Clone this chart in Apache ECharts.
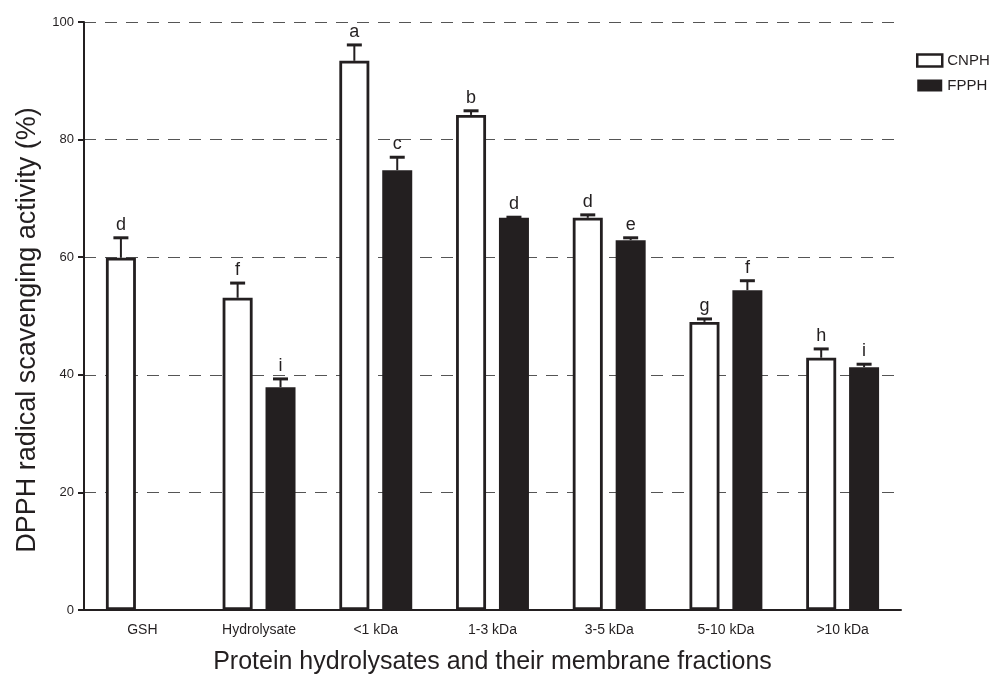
<!DOCTYPE html>
<html>
<head>
<meta charset="utf-8">
<script src="https://cdn.jsdelivr.net/npm/echarts@6/dist/echarts.min.js"></script>
<style>
    html, body { margin: 0; padding: 0; background: #fff; }
    #main { width: 995px; height: 682px; }
</style>
</head>
<body>
<div id="main"></div>
<script>
// categories and readings (mean, upper error bar end, significance letter)
var categories = ['GSH', 'Hydrolysate', '<1 kDa', '1-3 kDa', '3-5 kDa', '5-10 kDa', '>10 kDa'];
var cnphValues = [59.9, 53.1, 93.4, 84.2, 66.7, 49.0, 42.9];
var cnphErrTop = [63.3, 55.6, 96.1, 84.9, 67.2, 49.5, 44.4];
var cnphLetters = ['d', 'f', 'a', 'b', 'd', 'g', 'h'];
var fpphValues = [null, 37.9, 74.8, 66.7, 62.9, 54.4, 41.3];
var fpphErrTop = [null, 39.3, 77.0, 66.8, 63.3, 56.0, 41.8];
var fpphLetters = [null, 'i', 'c', 'd', 'e', 'f', 'i'];
var yTicks = [0, 20, 40, 60, 80, 100];

var ink = '#231f20';
var font = '"Liberation Sans", Arial, Helvetica, sans-serif';
var barWidth = 30;
var barGapPct = 43;
var barOffset = (barWidth + barWidth * barGapPct / 100) / 2;

function errData(vals, tops, letters) {
    var out = [];
    for (var i = 0; i < vals.length; i++) {
        if (vals[i] == null) continue;
        out.push([i, vals[i], tops[i], letters[i]]);
    }
    return out;
}

function errRenderer(side) {
    return function (params, api) {
        var c = api.value(0);
        var base = api.coord([c, api.value(1)]);
        var top = api.coord([c, api.value(2)]);
        var x = base[0] + side * barOffset;
        var capHalf = 7.5;
        return {
            type: 'group',
            children: [
                {
                    type: 'line',
                    shape: { x1: x, y1: base[1], x2: x, y2: top[1] },
                    style: { stroke: ink, lineWidth: 2 }
                },
                {
                    type: 'line',
                    shape: { x1: x - capHalf, y1: top[1], x2: x + capHalf, y2: top[1] },
                    style: { stroke: ink, lineWidth: 3 }
                },
                {
                    type: 'text',
                    style: {
                        x: x, y: top[1] - 4,
                        text: api.value(3),
                        fill: ink,
                        font: '18px ' + font,
                        align: 'center',
                        verticalAlign: 'bottom'
                    }
                }
            ]
        };
    };
}

var chart = echarts.init(document.getElementById('main'));
var option = {
    backgroundColor: '#fff',
    animation: false,
    textStyle: { fontFamily: font, color: ink },
    grid: { left: 84, right: 94, top: 22, bottom: 72 },
    legend: {
        orient: 'vertical',
        left: 911,
        top: 48,
        itemWidth: 25,
        itemHeight: 12,
        itemGap: 10,
        textStyle: { fontSize: 15, color: ink, fontFamily: font },
        data: [
            { name: 'CNPH', icon: 'rect', itemStyle: { color: '#fff', borderColor: ink, borderWidth: 2.5 } },
            { name: 'FPPH', icon: 'rect', itemStyle: { color: ink, borderWidth: 0 } }
        ]
    },
    xAxis: {
        type: 'category',
        data: categories,
        name: 'Protein hydrolysates and their membrane fractions',
        nameLocation: 'middle',
        nameGap: 40,
        nameTextStyle: { fontSize: 25, color: ink, fontFamily: font },
        axisLine: { lineStyle: { color: ink, width: 2 } },
        axisTick: { alignWithLabel: true, length: 6, lineStyle: { color: ink, width: 2 } },
        axisLabel: { fontSize: 14, color: ink, margin: 13 }
    },
    yAxis: {
        type: 'value',
        min: 0,
        max: 100,
        interval: 20,
        name: 'DPPH radical scavenging activity (%)',
        nameLocation: 'middle',
        nameRotate: 90,
        nameGap: 41,
        nameTextStyle: { fontSize: 27, color: ink, fontFamily: font, padding: [0, 28, 0, 0] },
        axisLine: { show: true, lineStyle: { color: ink, width: 2 } },
        axisTick: { show: true, length: 6, lineStyle: { color: ink, width: 2 } },
        axisLabel: {
            fontSize: 13, color: ink, margin: 10,
            formatter: function (v) { return yTicks.indexOf(v) >= 0 ? String(v) : ''; }
        },
        splitLine: { show: true, lineStyle: { color: '#555', width: 1.2, type: [12, 9] } }
    },
    series: [
        {
            name: 'CNPH',
            type: 'bar',
            data: cnphValues,
            barWidth: barWidth,
            barGap: barGapPct + '%',
            itemStyle: { color: '#fff', borderColor: ink, borderWidth: 2.8 },
            z: 3
        },
        {
            name: 'FPPH',
            type: 'bar',
            data: fpphValues,
            barWidth: barWidth,
            itemStyle: { color: ink },
            z: 3
        },
        {
            type: 'custom',
            name: 'CNPH err',
            renderItem: errRenderer(-1),
            data: errData(cnphValues, cnphErrTop, cnphLetters),
            encode: { x: 0, y: 2 },
            z: 4
        },
        {
            type: 'custom',
            name: 'FPPH err',
            renderItem: errRenderer(1),
            data: errData(fpphValues, fpphErrTop, fpphLetters),
            encode: { x: 0, y: 2 },
            z: 4
        }
    ]
};
chart.setOption(option);
</script>
</body>
</html>
